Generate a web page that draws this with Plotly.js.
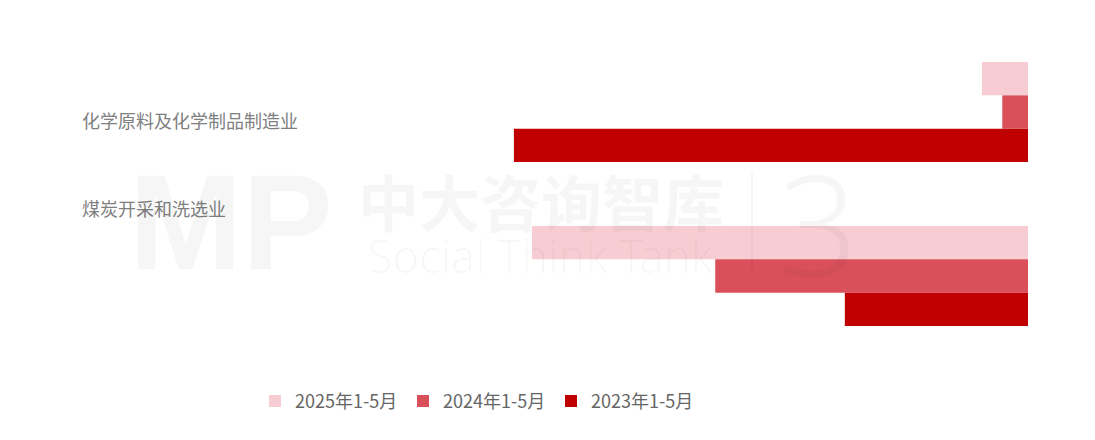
<!DOCTYPE html>
<html>
<head>
<meta charset="utf-8">
<script src="https://cdn.plot.ly/plotly-3.0.1.min.js"></script>
<style>html,body{margin:0;padding:0;background:#fff;}#chart{width:1095px;height:440px;}</style>
</head>
<body>
<div id="chart"></div>
<script>
// Data
const categories = ['化学原料及化学制品制造业', '煤炭开采和洗选业'];
const seriesNames = ['2025年1-5月', '2024年1-5月', '2023年1-5月'];
const values2025 = [-4.3, -46.3];
const values2024 = [-2.4, -29.2];
const values2023 = [-48.0, -17.1];
const seriesValues = [values2025, values2024, values2023];
const colors = ['#F7CDD3', '#D9505B', '#C00000'];

const FONT = '"Noto Sans CJK SC", "Noto Sans", sans-serif';

const traces = seriesNames.map((name, i) => ({
  type: 'bar',
  orientation: 'h',
  name: name,
  y: categories,
  x: seriesValues[i],
  marker: {color: colors[i], line: {width: 0}},
  hoverinfo: 'none'
}));

const labelY = [0.7256, 0.4573];
const annotations = categories.map((c, i) => ({
  xref: 'paper', yref: 'paper',
  x: 0.017, y: labelY[i],
  xanchor: 'left', yanchor: 'middle',
  text: c, showarrow: false,
  font: {family: FONT, size: 18, color: '#808080'}
}));

// watermark (faint, drawn over the plot like the original)
const wm = 'rgba(0,0,0,0.035)';
annotations.push(
  {xref:'paper', yref:'paper', x:(127-64)/964, y:(358-222)/328, xanchor:'left', yanchor:'middle',
   text:'<b>MP</b>', showarrow:false, font:{family:'"Liberation Sans", sans-serif', size:136, color:wm}},
  {xref:'paper', yref:'paper', x:(541-64)/964, y:(358-200)/328, xanchor:'center', yanchor:'middle',
   text:'<b>中大咨询智库</b>', showarrow:false, font:{family:FONT, size:61, color:wm}},
  {xref:'paper', yref:'paper', x:(541-64)/964, y:(358-256)/328, xanchor:'center', yanchor:'middle',
   text:'Social Think Tank', showarrow:false, font:{family:'"Noto Sans", sans-serif', size:45, color:wm, weight:300}},
  {xref:'paper', yref:'paper', x:(818-64)/964, y:(358-222)/328, xanchor:'center', yanchor:'middle',
   text:'3', showarrow:false, font:{family:'"Noto Sans", sans-serif', size:140, color:wm, weight:300}}
);

const layout = {
  width: 1095, height: 440,
  margin: {l: 64, r: 67, t: 30, b: 82, pad: 0},
  paper_bgcolor: '#ffffff', plot_bgcolor: 'rgba(0,0,0,0)',
  barmode: 'group', bargap: 0.39, bargroupgap: 0,
  showlegend: true,
  legend: {
    orientation: 'h', x: 255/1095, xref: 'container', y: 0.088, yref: 'container',
    xanchor: 'left', yanchor: 'middle',
    font: {family: FONT, size: 18, color: '#666666'},
    entrywidth: 103, entrywidthmode: 'pixels',
    itemclick: false, itemdoubleclick: false
  },
  xaxis: {range: [-90, 0], showgrid: false, zeroline: false, showline: false, showticklabels: false, ticks: '', fixedrange: true},
  yaxis: {type: 'category', autorange: 'reversed', showgrid: false, zeroline: false, showline: false, showticklabels: false, ticks: '', fixedrange: true},
  shapes: [
    {type:'line', xref:'paper', yref:'paper', x0:(752-64)/964, x1:(752-64)/964, y0:(358-172)/328, y1:(358-272)/328,
     line:{color:wm, width:2}, layer:'above'}
  ],
  annotations: annotations,
  font: {family: FONT}
};

Plotly.newPlot('chart', traces, layout, {displayModeBar: false, staticPlot: true});
</script>
</body>
</html>
